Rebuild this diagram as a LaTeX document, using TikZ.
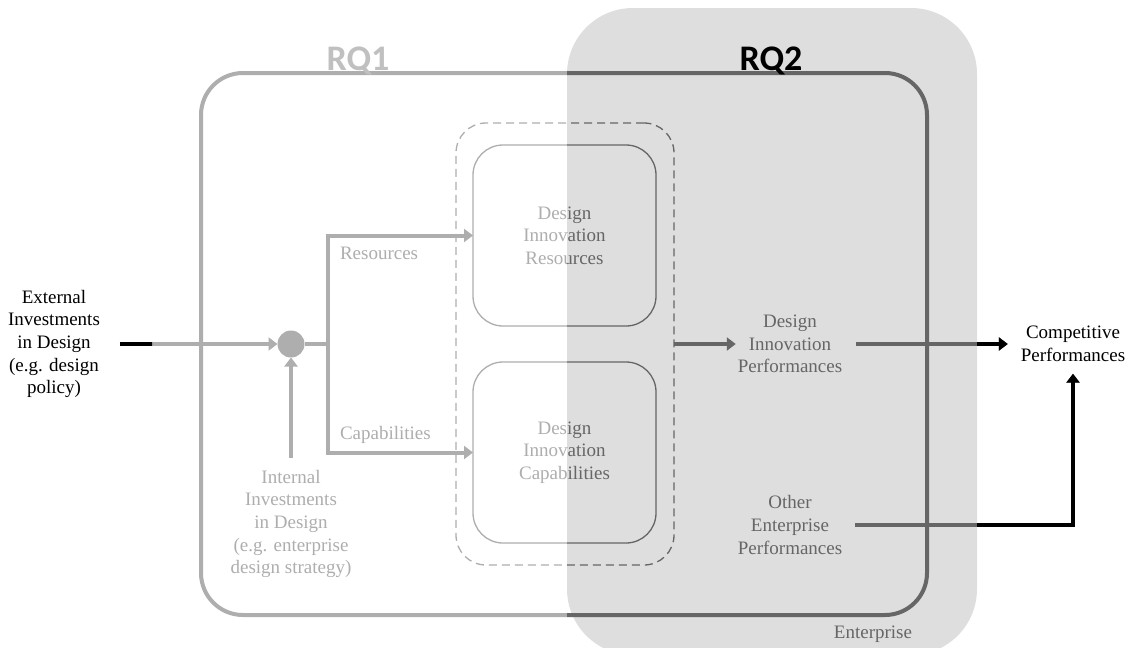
\documentclass[tikz,border=0pt]{standalone}
\usepackage{fontspec}
\setmainfont{Liberation Serif}
\newfontfamily\rqfont{Carlito}
\usetikzlibrary{arrows.meta,calc}
\definecolor{dg}{HTML}{666666}
\definecolor{entfill}{HTML}{DEDEDE}
\definecolor{rqlight}{HTML}{C0C0C0}
\begin{document}
\begin{tikzpicture}[x=1pt,y=-1pt,
  txt/.style={font=\fontsize{19}{22.7}\selectfont, align=center, text=dg, inner sep=0pt, outer sep=0pt},
  conn/.style={draw=dg, line width=4pt},
  arr/.style={conn, -{Triangle[length=9pt,width=13pt]}},
  boxst/.style={txt, draw=dg, line width=1.3pt, rounded corners=30pt, minimum width=183pt, minimum height=181pt},
  rqst/.style={font=\rqfont\bfseries\fontsize{36}{40}\selectfont, anchor=base, inner sep=0pt}]
\useasboundingbox (0,0) rectangle (1130,648);
% enterprise background
\node[fill=entfill, rounded corners=66pt, minimum width=410pt, minimum height=647pt, inner sep=0pt, outer sep=0pt] (ent) at (772,331.5) {};
% research question frame
\node[draw=dg, line width=4pt, rounded corners=42pt, minimum width=726pt, minimum height=542pt, inner sep=0pt, outer sep=0pt] (rq) at (564,344) {};
% dashed group
\node[draw=dg, line width=1.3pt, dash pattern=on 8pt off 5pt, rounded corners=30pt, minimum width=218pt, minimum height=442pt, inner sep=0pt, outer sep=0pt] (grp) at (565,344) {};
% inner boxes
\node[boxst] (dir) at (564.5,235.5) {Design\\Innovation\\Resources};
\node[boxst] (dic) at (564.5,452.5) {Design\\Innovation\\Capabilities};
% texts
\node[txt, text=black, inner xsep=20pt] (ext) at (54,344) {External\\Investments\\in Design\\(e.g. design\\policy)};
\node[circle, fill=dg, minimum size=27pt, inner sep=0pt, outer sep=0pt] (hub) at (291,344) {};
\node[txt, inner sep=12pt] (int) at (291,524) {Internal\\Investments\\in Design\\(e.g. enterprise\\design strategy)};
\node[txt, anchor=west] (lres) at (340,253) {Resources};
\node[txt, anchor=west] (lcap) at (340,435) {Capabilities};
\node[txt, inner xsep=2pt] (dip) at (790,344) {Design\\Innovation\\Performances};
\node[txt, inner xsep=13pt] (oep) at (790,525) {Other\\Enterprise\\Performances};
\node[txt, text=black, inner xsep=13pt, inner ysep=12pt] (comp) at (1073,344) {Competitive\\Performances};
\node[txt] (entl) at (873,634) {Enterprise};
% connectors
\coordinate (split) at (328,344);
\draw[arr] (ext.east) -- (hub.west);
\draw[arr] (int.north) -- (hub.south);
\draw[conn] (hub.east) -- (split);
\draw[arr] (split) |- (dir.west);
\draw[arr] (split) |- (dic.west);
\draw[arr] (grp.east) -- (dip.west);
\draw[arr, shorten <=12pt] (dip.east) -- (comp.west);
\draw[arr] (oep.east) -| (comp.south);
% lighten the left part
\fill[white, opacity=0.47] (152,0) rectangle (567,648);
% black parts outside
\begin{scope}
  \clip (0,0) rectangle (152,648);
  \draw[arr, draw=black] (ext.east) -- (hub.west);
\end{scope}
\begin{scope}
  \clip (977,0) rectangle (1130,648);
  \draw[arr, draw=black, shorten <=12pt] (dip.east) -- (comp.west);
  \draw[arr, draw=black] (oep.east) -| (comp.south);
\end{scope}
% RQ labels
\node[rqst, text=rqlight] (rq1) at (358,70) {RQ1};
\node[rqst, text=black] (rq2) at (771,70) {RQ2};
\end{tikzpicture}
\end{document}
